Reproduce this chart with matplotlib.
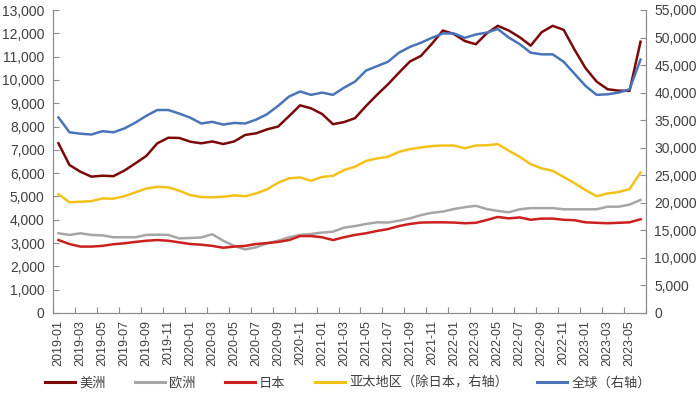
import matplotlib.pyplot as plt
import numpy as np
from matplotlib.ticker import FuncFormatter

plt.rcParams['font.family'] = ['Liberation Sans', 'Noto Sans CJK SC', 'DejaVu Sans']

months = [f"{y}-{m:02d}" for y in range(2019, 2024) for m in range(1, 13)][:54]

americas = [7280, 6350, 6060, 5850, 5890, 5870, 6110, 6420, 6740, 7280, 7520, 7510,
            7350, 7280, 7360, 7250, 7360, 7640, 7710, 7880, 8000, 8450, 8910, 8780,
            8540, 8100, 8190, 8360, 8880, 9360, 9810, 10310, 10790, 11030, 11550, 12120,
            11970, 11670, 11530, 12000, 12320, 12120, 11830, 11470, 12050, 12320, 12150, 11290,
            10500, 9930, 9600, 9540, 9530, 11640]
europe = [3420, 3350, 3420, 3350, 3330, 3250, 3250, 3250, 3350, 3360, 3350, 3200,
          3220, 3240, 3380, 3100, 2880, 2730, 2820, 2990, 3100, 3250, 3350, 3390,
          3450, 3490, 3660, 3730, 3820, 3890, 3880, 3960, 4060, 4200, 4300, 4350,
          4460, 4540, 4600, 4460, 4380, 4320, 4450, 4500, 4500, 4500, 4450, 4450,
          4450, 4450, 4560, 4560, 4650, 4850]
japan = [3130, 2960, 2850, 2850, 2880, 2950, 2990, 3050, 3100, 3130, 3100, 3030,
         2960, 2930, 2880, 2800, 2850, 2880, 2960, 3000, 3050, 3130, 3300, 3300,
         3250, 3130, 3250, 3350, 3420, 3520, 3600, 3730, 3820, 3880, 3890, 3890,
         3880, 3850, 3870, 3990, 4120, 4060, 4100, 4000, 4050, 4050, 4000, 3980,
         3890, 3870, 3850, 3870, 3890, 4020]
apac = [21550, 20100, 20200, 20300, 20800, 20750, 21200, 21900, 22600, 22900, 22800, 22200,
        21400, 21050, 21000, 21100, 21350, 21200, 21700, 22450, 23650, 24450, 24600, 24000,
        24700, 24900, 25950, 26550, 27600, 28050, 28350, 29250, 29750, 30050, 30300, 30400,
        30400, 29900, 30400, 30450, 30650, 29450, 28350, 27000, 26250, 25800, 24700, 23550,
        22300, 21200, 21700, 21950, 22500, 25500]
world = [35500, 32800, 32550, 32400, 33000, 32800, 33500, 34550, 35800, 36850, 36850, 36200,
         35450, 34400, 34700, 34200, 34500, 34400, 35100, 36100, 37600, 39300, 40200, 39600,
         40000, 39600, 40900, 42000, 44000, 44800, 45600, 47250, 48300, 49050, 49950, 50750,
         50750, 49950, 50550, 50900, 51550, 50000, 48800, 47250, 46950, 46950, 45600, 43400,
         41200, 39600, 39700, 40000, 40600, 46000]

x = np.arange(len(months))
txt = '#404040'
axc = '#8C8C8C'

fig = plt.figure(figsize=(7, 4), dpi=100)
ax = fig.add_axes([0.0757, 0.2175, 0.8472, 0.7575])
ax2 = ax.twinx()

l1, = ax.plot(x, americas, color='#7A0A0A', lw=1.8, label='美洲')
l2, = ax.plot(x, europe, color='#A6A6A6', lw=1.8, label='欧洲')
l3, = ax.plot(x, japan, color='#CC1F1F', lw=1.8, label='日本')
l4, = ax2.plot(x, apac, color='#F2C21B', lw=1.8, label='亚太地区（除日本，右轴）')
l5, = ax2.plot(x, world, color='#4A74B8', lw=1.8, label='全球（右轴）')

ax.set_xlim(-0.5, len(months) - 0.5)
ax.set_ylim(0, 13000)
ax2.set_ylim(0, 55000)
ax.set_yticks(np.arange(0, 13001, 1000))
ax2.set_yticks(np.arange(0, 55001, 5000))
fmt = FuncFormatter(lambda v, p: f"{int(v):,}")
ax.yaxis.set_major_formatter(fmt)
ax2.yaxis.set_major_formatter(fmt)

ax.set_xticks(np.arange(-0.5, len(months), 2))
ax.set_xticklabels([])
ax.set_xticks(x[::2], minor=True)
ax.set_xticklabels(months[::2], minor=True, rotation=90, fontsize=9, color=txt)
ax.tick_params(axis='x', which='major', direction='in', length=4, color=axc)
ax.tick_params(axis='x', which='minor', length=0, pad=5)
ax.tick_params(axis='y', direction='in', length=4, color=axc, labelsize=10, labelcolor=txt, pad=6)
ax2.tick_params(axis='y', direction='in', length=4, color=axc, labelsize=10, labelcolor=txt, pad=6)

for a in (ax, ax2):
    a.spines['top'].set_visible(False)
    for s in ('left', 'right', 'bottom'):
        a.spines[s].set_color(axc)

leg = fig.legend(handles=[l1, l2, l3, l4, l5], loc='center', bbox_to_anchor=(0.497, 0.0425), ncol=5,
                 frameon=False, fontsize=9.5, handlelength=2.3, handletextpad=0.3,
                 columnspacing=2.2, labelcolor=txt)
for h in leg.get_lines():
    h.set_linewidth(2.2)

fig.savefig('out.png', dpi=100)
